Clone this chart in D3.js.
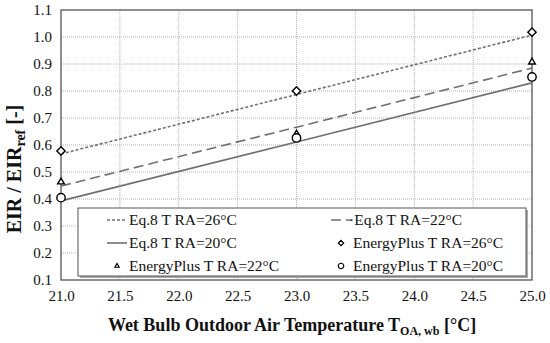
<!DOCTYPE html>
<html>
<head>
<meta charset="utf-8">
<script src="https://cdn.jsdelivr.net/npm/d3@7"></script>
<style>
  body { margin: 0; background: #fff; }
</style>
</head>
<body>
<svg id="chart" width="550" height="343"></svg>
<script>
// wet bulb temperatures (x)
var temps = [21, 23, 25];
// Eq.8 model lines
var eq26 = [0.567, 0.787, 1.007];
var eq22 = [0.448, 0.666, 0.885];
var eq20 = [0.393, 0.611, 0.830];
// EnergyPlus points
var ep26 = [0.578, 0.800, 1.018];
var ep22 = [0.463, 0.641, 0.907];
var ep20 = [0.405, 0.626, 0.852];

var xTicks = [21.0, 21.5, 22.0, 22.5, 23.0, 23.5, 24.0, 24.5, 25.0];
var yTicks = [0.1, 0.2, 0.3, 0.4, 0.5, 0.6, 0.7, 0.8, 0.9, 1.0, 1.1];

var FONT = "'Liberation Serif', 'Times New Roman', serif";
var margin = { top: 10, right: 18, bottom: 63, left: 61 };
var width = 550, height = 343;

var svg = d3.select("#chart");

var x = d3.scaleLinear()
    .domain([21, 25])
    .range([margin.left, width - margin.right]);
var y = d3.scaleLinear()
    .domain([0.1, 1.1])
    .range([height - margin.bottom, margin.top]);

// grid
var grid = svg.append("g");
grid.selectAll(".vg").data(xTicks.slice(1, -1)).enter().append("line")
    .attr("x1", d => x(d)).attr("x2", d => x(d))
    .attr("y1", y(1.1)).attr("y2", y(0.1))
    .attr("stroke", "#b5b5b5").attr("stroke-width", 1).attr("stroke-dasharray", "1,1");
grid.selectAll(".hg").data(yTicks.slice(1, -1)).enter().append("line")
    .attr("x1", x(21)).attr("x2", x(25))
    .attr("y1", d => y(d)).attr("y2", d => y(d))
    .attr("stroke", "#b5b5b5").attr("stroke-width", 1).attr("stroke-dasharray", "1,1");

// axes
var xAxis = g => g
    .attr("transform", `translate(0,${y(0.1)})`)
    .call(d3.axisBottom(x).tickValues(xTicks).tickFormat(d3.format(".1f")).tickSize(0).tickPadding(10))
    .call(g => g.select(".domain").remove());
var yAxis = g => g
    .attr("transform", `translate(${x(21)},0)`)
    .call(d3.axisLeft(y).tickValues(yTicks).tickFormat(d3.format(".1f")).tickSize(0).tickPadding(9))
    .call(g => g.select(".domain").remove());

svg.append("g").call(xAxis)
    .selectAll("text").style("font-family", FONT).style("font-size", "15px").attr("fill", "#111");
svg.append("g").call(yAxis)
    .selectAll("text").style("font-family", FONT).style("font-size", "15px").attr("fill", "#111");

// plot border
svg.append("rect")
    .attr("x", x(21)).attr("y", y(1.1))
    .attr("width", x(25) - x(21)).attr("height", y(0.1) - y(1.1))
    .attr("fill", "none").attr("stroke", "#555").attr("stroke-width", 1.3);

// lines
var lineColor = "#707070";
var series = [
  { name: "Eq.8 T RA=26°C", values: eq26, dash: "3,2" },
  { name: "Eq.8 T RA=22°C", values: eq22, dash: "10,5" },
  { name: "Eq.8 T RA=20°C", values: eq20, dash: null }
];
var line = d3.line().x((d, i) => x(temps[i])).y(d => y(d));
series.forEach(function (s) {
  svg.append("path")
      .attr("d", line(s.values))
      .attr("fill", "none")
      .attr("stroke", lineColor)
      .attr("stroke-width", 1.6)
      .attr("stroke-dasharray", s.dash);
});

// markers
var diamond = d3.symbol().type(d3.symbolDiamond2).size(44);
var triangle = d3.symbol().type(d3.symbolTriangle2).size(32);
var circle = d3.symbol().type(d3.symbolCircle).size(55);
var points = [
  { name: "EnergyPlus T RA=26°C", values: ep26, sym: diamond },
  { name: "EnergyPlus T RA=22°C", values: ep22, sym: triangle },
  { name: "EnergyPlus T RA=20°C", values: ep20, sym: circle }
];
points.forEach(function (p) {
  svg.append("g").selectAll("path").data(p.values).enter().append("path")
      .attr("d", p.sym)
      .attr("transform", (d, i) => `translate(${x(temps[i])},${y(d)})`)
      .attr("fill", "#fff").attr("stroke", "#000").attr("stroke-width", 1.4);
});

// legend
var lg = svg.append("g");
lg.append("rect").attr("x", 80).attr("y", 210).attr("width", 448).attr("height", 68)
    .attr("fill", "#aaa");
lg.append("rect").attr("x", 78).attr("y", 208).attr("width", 448).attr("height", 68)
    .attr("fill", "#fff").attr("stroke", "#555").attr("stroke-width", 1);

var legendItems = [
  { label: series[0].name, kind: "line", dash: "3,2", col: 0, row: 0 },
  { label: "·" + series[1].name, kind: "line", dash: "10,5", col: 1, row: 0 },
  { label: series[2].name, kind: "line", dash: null, col: 0, row: 1 },
  { label: points[0].name, kind: "sym", sym: diamond, col: 1, row: 1 },
  { label: points[1].name, kind: "sym", sym: triangle, col: 0, row: 2 },
  { label: points[2].name, kind: "sym", sym: circle, col: 1, row: 2 }
];
var colX = [107, 331];
var rowY = [220, 243, 266];
legendItems.forEach(function (it) {
  var lx = colX[it.col], ly = rowY[it.row];
  if (it.kind === "line") {
    lg.append("line").attr("x1", lx).attr("x2", lx + 20).attr("y1", ly).attr("y2", ly)
        .attr("stroke", lineColor).attr("stroke-width", 1.6).attr("stroke-dasharray", it.dash);
  } else {
    lg.append("path").attr("d", it.sym)
        .attr("transform", `translate(${lx + 10},${ly}) scale(0.65)`)
        .attr("fill", "#fff").attr("stroke", "#000").attr("stroke-width", 1.8);
  }
  lg.append("text").attr("x", lx + (it.label[0] === "·" ? 18 : 22)).attr("y", ly + 5)
      .style("font-family", FONT).style("font-size", "15.5px").attr("fill", "#111").text(it.label);
});

// axis titles
var xt = svg.append("text").attr("x", 292).attr("y", 331).attr("text-anchor", "middle")
    .style("font-family", FONT).style("font-size", "18px").attr("font-weight", "bold").attr("fill", "#111");
xt.append("tspan").text("Wet Bulb Outdoor Air Temperature T");
xt.append("tspan").style("font-size", "12px").attr("dy", 4).text("OA, wb");
xt.append("tspan").attr("dy", -4).text(" [°C]");

var yt = svg.append("text").attr("transform", "translate(21,169) rotate(-90)").attr("text-anchor", "middle")
    .style("font-family", FONT).style("font-size", "20px").attr("font-weight", "bold").attr("fill", "#111");
yt.append("tspan").text("EIR / EIR");
yt.append("tspan").style("font-size", "14px").attr("dy", 4).text("ref");
yt.append("tspan").attr("dy", -4).text(" [-]");
</script>
</body>
</html>
